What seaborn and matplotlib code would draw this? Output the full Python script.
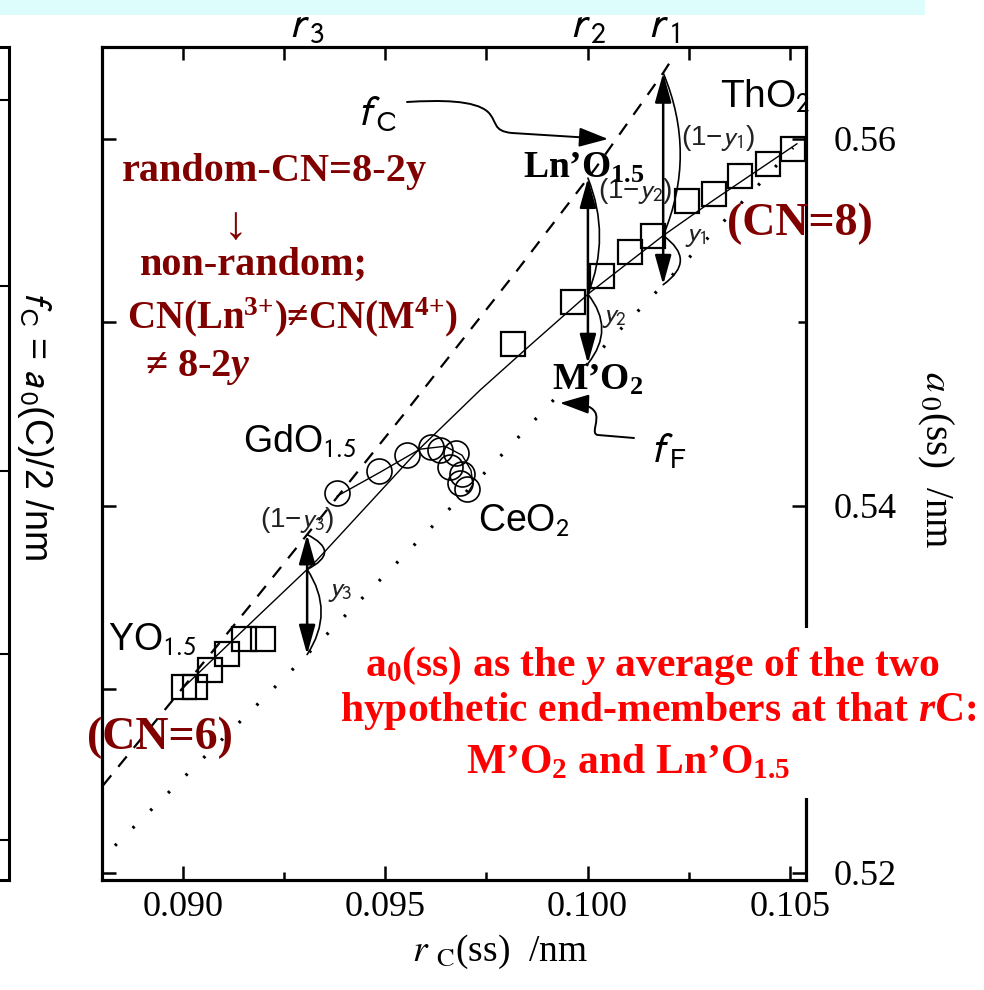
import numpy as np
import matplotlib
matplotlib.use("Agg")
import matplotlib.pyplot as plt
import seaborn as sns
from matplotlib.patches import Rectangle, FancyArrowPatch
from matplotlib.path import Path

# ---------------- data: cation radius r_C(ss) /nm, lattice parameter a0(ss) /nm
# M(IV)O2 - ThO2 side solid solutions (open squares)
tho2_r = [0.09816, 0.09964, 0.10036, 0.10105, 0.10162, 0.10246, 0.10313, 0.10377, 0.10446, 0.10508]
tho2_a = [0.54879, 0.55108, 0.55254, 0.55385, 0.55472, 0.55663, 0.55701, 0.55799, 0.55864, 0.55946]
# YO1.5-rich side (open squares)
yo_r = [0.09003, 0.09030, 0.09067, 0.09109, 0.09151, 0.09198]
yo_a = [0.53012, 0.53012, 0.53105, 0.53192, 0.53274, 0.53274]
# GdO1.5 - CeO2 series (open circles) and its guide line
gdce_r = [0.09381, 0.09485, 0.09554, 0.09613, 0.09635, 0.09675, 0.09660, 0.09690, 0.09685, 0.09702]
gdce_a = [0.54068, 0.54188, 0.54275, 0.54318, 0.54302, 0.54286, 0.54210, 0.54171, 0.54122, 0.54090]
gdce_line_r = [0.09381, 0.09487, 0.09586, 0.09648, 0.09690, 0.09712, 0.09717, 0.09705]
gdce_line_a = [0.54052, 0.54182, 0.54308, 0.54324, 0.54275, 0.54193, 0.54117, 0.54074]
# a0(ss) model curve (solid)
ss_r = [0.08995, 0.09183, 0.09331, 0.09586, 0.09734, 0.09858, 0.10006, 0.10187, 0.10310, 0.10518]
ss_a = [0.52996, 0.53393, 0.53703, 0.54313, 0.54629, 0.54874, 0.55162, 0.55472, 0.55663, 0.55973]
# f_C (dashed) and f_F (dotted) reference lines
fc_r = [0.08802, 0.09173, 0.09544, 0.09826, 0.10019, 0.10187, 0.10209]
fc_a = [0.52474, 0.53475, 0.54493, 0.55282, 0.55837, 0.56359, 0.56435]
ff_r = [0.08832, 0.09265, 0.09752, 0.10048, 0.10414, 0.10508]
ff_a = [0.52147, 0.53094, 0.54193, 0.54884, 0.55728, 0.55951]
# characteristic radii r3, r2, r1
r_marks = [0.09307, 0.10001, 0.10187]
r_labels = [r"$r\,_3$", r"$r\,_2$", r"$r\,_1$"]
y_names = ["3", "2", "1"]

# axis ticks
x_major = [0.090, 0.095, 0.100, 0.105]
x_major_labels = ["0.090", "0.095", "0.100", "0.105"]
x_minor = [0.0925, 0.0975, 0.1025]
top_ticks = [0.0900, 0.0925, 0.0950, 0.0975, 0.1000, 0.1025, 0.1050]
y_major = [0.52, 0.54, 0.56]
y_major_labels = ["0.52", "0.54", "0.56"]
y_minor = [0.53, 0.55]
left_ticks = [0.52, 0.53, 0.54, 0.55, 0.56]
side_panel_ticks = [0.5218, 0.5319, 0.5419, 0.5520, 0.5621]

XLIM = (0.0880, 0.1054)
YLIM = (0.5196, 0.5650)

SERIF = ["Liberation Serif", "DejaVu Serif"]
SANS = ["Liberation Sans", "DejaVu Sans"]
DARKRED = "#800000"
RED = "#ff0000"

sns.set_style("white")
plt.rcParams.update({
    "font.family": SERIF,
    "mathtext.fontset": "custom",
    "mathtext.rm": "Liberation Serif:bold",
    "mathtext.it": "Liberation Serif:italic:bold",
    "mathtext.bf": "Liberation Serif:bold",
    "axes.edgecolor": "black",
    "text.color": "black",
    "xtick.color": "black",
    "ytick.color": "black",
    "axes.linewidth": 2.2,
})

W, H = 984, 990
fig = plt.figure(figsize=(W / 100, H / 100), dpi=100)
fig.patch.set_facecolor("white")


def cv(x, y):
    """Canvas position in pixels (origin top-left) -> figure fraction."""
    return x / W, 1 - y / H


def ftext(x, y, s, **kw):
    fx, fy = cv(x, y)
    return fig.text(fx, fy, s, **kw)


# light cyan strip along the top edge
fig.add_artist(Rectangle(cv(0, 15), 925 / W, 15 / H, transform=fig.transFigure,
                         facecolor="#ddfdfd", edgecolor="none", zorder=0))

# ---------------- neighbouring panel (only its right edge is visible)
PL, PR, PT, PB = 102, 806, 47, 880
ax_side = fig.add_axes([-0.3, 1 - PB / H, 0.3 + 9 / W, (PB - PT) / H])
ax_side.set_ylim(YLIM)
ax_side.set_xticks([])
ax_side.yaxis.tick_right()
ax_side.set_yticks(side_panel_ticks)
ax_side.tick_params(axis="y", direction="in", length=7, width=1.5, right=True, labelright=False)
ax_side.spines["left"].set_visible(False)
for s in ("right", "top", "bottom"):
    ax_side.spines[s].set_linewidth(2.2)
ftext(35, 425, r"$f\,_{\mathrm{C}}$ = $a\,_0$(C)/2 /nm", rotation=-90, ha="center", va="center",
      fontsize=27, family=SANS, math_fontfamily="stixsans")

# ---------------- main panel
ax = fig.add_axes([PL / W, 1 - PB / H, (PR - PL) / W, (PB - PT) / H])

line_kw = dict(ax=ax, estimator=None, sort=False, legend=False, color="black")
sns.lineplot(x=ff_r, y=ff_a, linewidth=2.3, linestyle=(0, (0.8, 7)), **line_kw)
sns.lineplot(x=fc_r, y=fc_a, linewidth=1.6, linestyle=(0, (6, 5)), **line_kw)
sns.lineplot(x=ss_r, y=ss_a, linewidth=1.0, **line_kw)
sns.lineplot(x=gdce_line_r, y=gdce_line_a, linewidth=1.0, **line_kw)

mark_kw = dict(ax=ax, estimator=None, sort=False, legend=False, color="black",
               linestyle="", markerfacecolor="none", markeredgecolor="black", zorder=4)
sns.lineplot(x=tho2_r, y=tho2_a, marker="s", markersize=17, markeredgewidth=1.6, **mark_kw)
sns.lineplot(x=yo_r, y=yo_a, marker="s", markersize=17, markeredgewidth=1.6, **mark_kw)
sns.lineplot(x=gdce_r, y=gdce_a, marker="o", markersize=18, markeredgewidth=1.2, **mark_kw)

ax.set_xlim(XLIM)
ax.set_ylim(YLIM)
ax.set_xlabel("")
ax.set_ylabel("")
ax.set_xticks(x_major)
ax.set_xticklabels(x_major_labels, fontsize=26, family=SERIF)
ax.set_xticks(x_minor, minor=True)
ax.set_yticks(left_ticks)
ax.set_yticklabels([])
ax.tick_params(axis="x", which="major", direction="in", length=10, width=1.8, pad=8,
               bottom=True, top=False)
ax.tick_params(axis="x", which="minor", direction="in", length=6, width=1.8,
               bottom=True, top=False)
ax.tick_params(axis="y", which="major", direction="in", length=10, width=1.8,
               left=True, right=False, labelleft=False)

ax_r = ax.twinx()
ax_r.set_ylim(YLIM)
ax_r.set_yticks(y_major)
ax_r.set_yticklabels(y_major_labels, fontsize=26, family=SERIF)
ax_r.set_yticks(y_minor, minor=True)
ax_r.tick_params(axis="y", which="major", direction="in", length=10, width=1.8, pad=20,
                 right=True, left=False)
ax_r.tick_params(axis="y", which="minor", direction="in", length=6, width=1.8,
                 right=True, left=False)

ax_t = ax.twiny()
ax_t.set_xlim(XLIM)
ax_t.set_xticks(r_marks)
ax_t.set_xticklabels(r_labels, fontsize=31, family=SANS, math_fontfamily="stixsans")
ax_t.set_xticks(top_ticks, minor=True)
ax_t.tick_params(axis="x", which="major", length=0, pad=1, top=True, bottom=False)
ax_t.tick_params(axis="x", which="minor", direction="in", length=9, width=1.8,
                 top=True, bottom=False)

for a in (ax, ax_r, ax_t):
    for s in a.spines.values():
        s.set_linewidth(2.2)
        s.set_color("black")

# ---------------- y / (1-y) partition arrows at r3, r2, r1
arc_bend = [(-1.0, -0.33), (-0.2, -0.4), (-0.21, -0.7)]
for r, (b_up, b_lo) in zip(r_marks, arc_bend):
    top = np.interp(r, fc_r, fc_a)
    mid = np.interp(r, ss_r, ss_a)
    bot = np.interp(r, ff_r, ff_a)
    ax.annotate("", xy=(r, top), xytext=(r, bot),
                arrowprops=dict(arrowstyle="<|-|>,head_length=0.9,head_width=0.25",
                                mutation_scale=20, lw=1.8, color="black",
                                shrinkA=0, shrinkB=0), zorder=5)
    ax.add_patch(FancyArrowPatch((r, top), (r, mid), connectionstyle=f"arc3,rad={b_up}",
                                 arrowstyle="-", lw=1.2, color="black", shrinkA=0, shrinkB=0))
    ax.add_patch(FancyArrowPatch((r, mid), (r, bot), connectionstyle=f"arc3,rad={b_lo}",
                                 arrowstyle="-", lw=1.2, color="black", shrinkA=0, shrinkB=0))

# ---------------- wavy pointers to the f_C and f_F lines
C4 = Path.CURVE4


def wavy(points, codes):
    verts = [cv(x, y) for x, y in points]
    fig.add_artist(FancyArrowPatch(path=Path(verts, codes), transform=fig.transFigure,
                                   arrowstyle="-|>,head_length=0.9,head_width=0.3",
                                   mutation_scale=20, lw=1.4, color="black", zorder=5))


wavy([(407, 102), (440, 100), (475, 100), (488, 112), (498, 122), (492, 131), (512, 133), (608, 139)],
     [Path.MOVETO, C4, C4, C4, C4, C4, C4, Path.LINETO])
wavy([(634, 438), (598, 435), (590, 434), (600, 420), (595, 412), (591, 406), (585, 404), (560, 403)],
     [Path.MOVETO, Path.LINETO, C4, C4, C4, C4, C4, C4])

# ---------------- labels
sans_kw = dict(family=SANS, math_fontfamily="stixsans", color="black")
ftext(720, 108, "ThO$_2$", fontsize=28, ha="left", va="baseline", **sans_kw)
ftext(243, 452, "GdO$_{1.5}$", fontsize=27, ha="left", va="baseline", **sans_kw)
ftext(478, 532, "CeO$_2$", fontsize=27, ha="left", va="baseline", **sans_kw)
ftext(108, 650, "YO$_{1.5}$", fontsize=27, ha="left", va="baseline", **sans_kw)
ftext(357, 125, r"$f\,_{\mathrm{C}}$", fontsize=30, ha="left", va="baseline", **sans_kw)
ftext(650, 462, r"$f\,_{\mathrm{F}}$", fontsize=30, ha="left", va="baseline", **sans_kw)

ypart_kw = dict(family=SANS, math_fontfamily="stixsans", color="#222222", fontsize=20,
                ha="center", va="center")
for (xu, yu), (xl, yl), n in zip([(297, 520), (635, 191), (718, 138)],
                                 [(340, 591), (615, 317), (696, 236)], y_names):
    ftext(xu, yu, f"(1\u2212$y_{n}$)", **ypart_kw)
    ftext(xl, yl, f"$y_{n}$", **ypart_kw)

bold_kw = dict(family=SERIF, weight="bold", math_fontfamily="custom")
ftext(523, 178, "Ln\u2019O$_{1.5}$", fontsize=27, ha="left", va="baseline", color="black", **bold_kw)
ftext(552, 390, "M\u2019O$_2$", fontsize=27, ha="left", va="baseline", color="black", **bold_kw)

ftext(274, 181, "random-CN=8-2y", fontsize=29, ha="center", va="baseline", color=DARKRED, **bold_kw)
ftext(235, 228, "\u2193", fontsize=34, ha="center", va="center", color=DARKRED, family=SERIF)
ftext(254, 275, "non-random;", fontsize=29, ha="center", va="baseline", color=DARKRED, **bold_kw)
ftext(292, 328, "CN(Ln$^{3{+}}$)\u2260CN(M$^{4{+}}$)", fontsize=28, ha="center", va="baseline",
      color=DARKRED, **bold_kw)
ftext(198, 376, "\u2260 8-2$y$", fontsize=29, ha="center", va="baseline", color=DARKRED, **bold_kw)
ftext(800, 224, "(CN=8)", fontsize=33, ha="center", va="center", color=DARKRED, **bold_kw)
ftext(160, 738, "(CN=6)", fontsize=33, ha="center", va="center", color=DARKRED, **bold_kw)

# explanatory note on a white panel
fig.add_artist(Rectangle(cv(330, 798), (984 - 330) / W, (798 - 628) / H, transform=fig.transFigure,
                         facecolor="white", edgecolor="none", zorder=1))
ftext(652, 666, "a$_0$(ss) as the $y$ average of the two", fontsize=30, ha="center", va="center",
      color=RED, **bold_kw)
ftext(658, 711, "hypothetic end-members at that $r$C:", fontsize=30, ha="center", va="center",
      color=RED, **bold_kw)
ftext(628, 763, "M\u2019O$_2$ and Ln\u2019O$_{1.5}$", fontsize=30, ha="center", va="center",
      color=RED, **bold_kw)

# axis titles
ftext(500, 952, r"$r\ _{\mathrm{C}}$(ss)  /nm", fontsize=27, ha="center", va="center",
      family=SERIF, math_fontfamily="stix")
ftext(935, 460, r"$a\,_0$(ss)  /nm", fontsize=28, rotation=-90, ha="center", va="center",
      family=SERIF, math_fontfamily="stix")

fig.savefig("out.png", dpi=100, facecolor="white")
